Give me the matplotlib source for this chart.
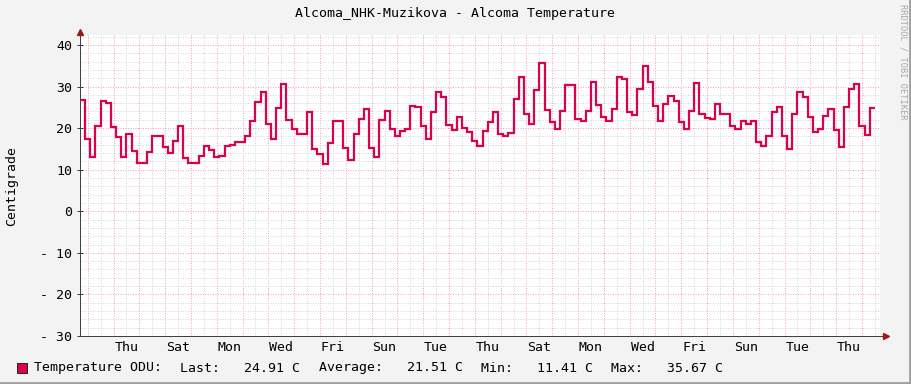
import numpy as np
import matplotlib.pyplot as plt
from matplotlib.patches import Rectangle
from matplotlib.lines import Line2D

plt.rcParams['font.family'] = 'DejaVu Sans Mono'

# 4.8 h consolidated samples, time in days from the first midnight (a Wednesday)
t_start = -0.3
t_step = 0.2
temp_c = [
    26.8, 17.5, 13.1, 20.6, 26.6, 26.0, 20.2, 17.8, 13.1, 18.7,
    14.4, 11.7, 11.7, 14.2, 18.2, 18.2, 15.4, 13.9, 16.9, 20.6,
    12.7, 11.7, 11.7, 13.2, 15.8, 14.7, 13.1, 13.3, 15.6, 16.0,
    16.7, 16.7, 18.2, 21.6, 26.3, 28.6, 20.9, 17.3, 24.9, 30.7,
    22.0, 19.8, 18.6, 18.6, 23.8, 15.0, 13.8, 11.41, 16.5, 21.8,
    21.8, 15.3, 12.3, 18.6, 22.2, 24.7, 15.1, 13.0, 22.0, 24.2,
    19.9, 18.0, 19.2, 19.9, 25.4, 25.0, 20.6, 17.4, 23.8, 28.6,
    27.6, 20.8, 19.6, 22.7, 20.1, 19.0, 16.9, 15.6, 19.3, 21.4,
    23.8, 18.7, 18.2, 18.9, 27.1, 32.4, 23.3, 21.0, 29.2, 35.67,
    24.4, 21.4, 19.9, 24.2, 30.3, 30.3, 22.2, 21.6, 24.2, 31.2,
    25.5, 22.6, 21.8, 24.5, 32.2, 31.9, 23.8, 23.2, 29.3, 35.0,
    31.1, 25.4, 21.6, 25.8, 27.8, 26.6, 21.4, 19.9, 24.2, 30.9,
    23.5, 22.5, 22.3, 25.8, 23.4, 23.3, 20.6, 19.8, 21.8, 21.0,
    21.8, 16.6, 15.6, 18.0, 23.8, 25.2, 18.2, 14.9, 23.3, 28.6,
    27.5, 22.7, 19.0, 19.7, 23.0, 24.7, 19.5, 15.4, 25.1, 29.5,
    30.7, 20.4, 18.4, 24.91,
]

day_labels = ['Thu', 'Sat', 'Mon', 'Wed', 'Fri', 'Sun', 'Tue', 'Thu',
              'Sat', 'Mon', 'Wed', 'Fri', 'Sun', 'Tue', 'Thu']
label_days = list(range(1, 30, 2))

stat_names = ['Last:', 'Average:', 'Min:', 'Max:']
stat_values = [24.91, 21.51, 11.41, 35.67]

title = 'Alcoma_NHK-Muzikova - Alcoma Temperature'
line_color = '#DC0050'

W, H = 911, 384
fig = plt.figure(figsize=(W / 100, H / 100), dpi=100, facecolor='#F3F3F3')
ax = fig.add_axes([80 / W, 1 - 336 / H, 800 / W, 301 / H])
ax.set_facecolor('white')

edges = t_start + t_step * np.arange(len(temp_c) + 1)
ax.stairs(temp_c, edges, baseline=None, color=line_color, lw=1.6, zorder=3)

ax.set_xlim(-0.3, 30.7)
ax.set_ylim(-30, 42.4)

ax.set_xticks(np.arange(0, 31))
ax.set_xticks(np.arange(0.5, 31, 1), minor=True)
ax.set_yticks(range(-30, 41, 10))
ax.set_yticks(np.arange(-30, 43, 2), minor=True)
ax.set_yticklabels([f'- {abs(v)}' if v < 0 else str(v) for v in range(-30, 41, 10)])

ax.set_axisbelow(True)
ax.grid(which='minor', color='#D6D6D6', ls=(0, (1, 1.5)), lw=0.72)
ax.grid(which='major', color='#F4A8A8', ls=(0, (1, 1.5)), lw=0.72)

ax.tick_params(axis='x', which='both', length=0, labelbottom=False)
ax.tick_params(axis='y', which='major', direction='inout', length=4, width=0.72,
               color='#404040', pad=3.6, labelsize=9.5)
ax.tick_params(axis='y', which='minor', length=0)

for s in ['top', 'right']:
    ax.spines[s].set_visible(False)
for s in ['left', 'bottom']:
    ax.spines[s].set_color('#404040')
    ax.spines[s].set_linewidth(0.72)

# axis arrows
ax.plot([1, 1.007], [0, 0], transform=ax.transAxes, color='#404040', lw=0.72, clip_on=False)
ax.plot([0, 0], [1, 1.01], transform=ax.transAxes, color='#404040', lw=0.72, clip_on=False)
ax.plot([1.007], [0], marker='>', ms=4, color='#A01818', transform=ax.transAxes, clip_on=False)
ax.plot([0], [1.01], marker='^', ms=4, color='#A01818', transform=ax.transAxes, clip_on=False)

for d, lbl in zip(label_days, day_labels):
    ax.annotate(lbl, xy=(d + 0.5, 0), xycoords=('data', 'axes fraction'),
                xytext=(0, -8), textcoords='offset points',
                ha='center', va='center', fontsize=9.5)

fig.text(455 / W, 1 - 14 / H, title, ha='center', va='center', fontsize=9.5)
fig.text(12 / W, 1 - 186 / H, 'Centigrade', rotation=90, ha='center', va='center', fontsize=9.5)
fig.text(903 / W, 1 - 62 / H, 'RRDTOOL / TOBI OETIKER', rotation=270,
         ha='center', va='center', fontsize=6.2, color='#A8A8A8')

# legend row
fig.add_artist(Rectangle((17 / W, 1 - 373 / H), 10 / W, 10 / H, transform=fig.transFigure,
                         facecolor=line_color, edgecolor='#222222', lw=0.7))
ly = 1 - 368 / H
fig.text(34 / W, ly, 'Temperature ODU:', va='center', fontsize=9.5)
stat_x = [180, 319, 481, 611]
for x, name, val in zip(stat_x, stat_names, stat_values):
    fig.text(x / W, ly, f'{name}   {val:.2f} C', va='center', fontsize=9.5)

# shaded frame
fig.add_artist(Line2D([0, 1], [1 / H, 1 / H], transform=fig.transFigure, color='#9E9E9E', lw=2))
fig.add_artist(Line2D([1 - 1 / W, 1 - 1 / W], [0, 1], transform=fig.transFigure, color='#9E9E9E', lw=2))

fig.savefig('out.png', dpi=100, facecolor=fig.get_facecolor())
